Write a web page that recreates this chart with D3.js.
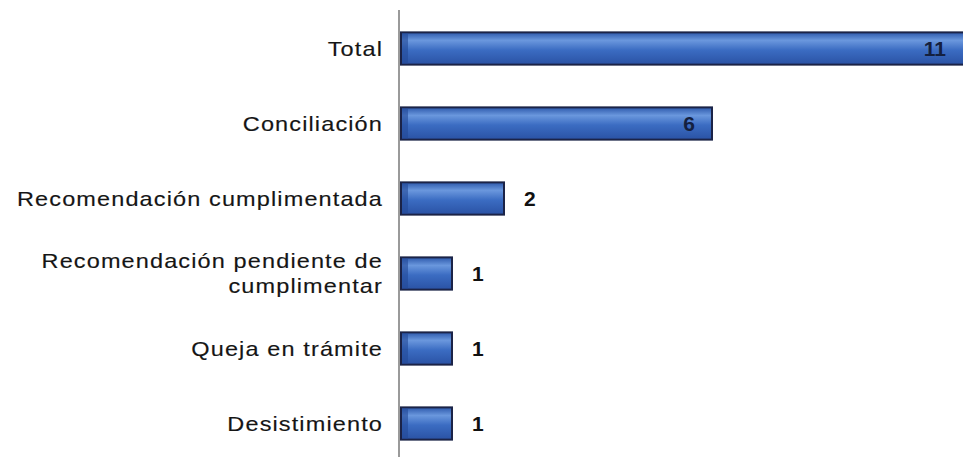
<!DOCTYPE html>
<html>
<head>
<meta charset="utf-8" />
<script src="https://d3js.org/d3.v7.min.js"></script>
<style>
  body { margin: 0; background: #fff; overflow: hidden; }
  .cat { font-family: "Liberation Sans", Arial, sans-serif; font-size: 21px; letter-spacing: 1px; fill: #151515; stroke: #151515; stroke-width: 0.15px; }
  .val { font-family: "Liberation Sans", Arial, sans-serif; font-size: 21px; font-weight: bold; }
</style>
</head>
<body>
<div id="chart"></div>
<script>
const width = 963, height = 457;

// data
const categories = ["Total", "Conciliación", "Recomendación cumplimentada",
  "Recomendación pendiente de cumplimentar", "Queja en trámite", "Desistimiento"];
const labelLines = [["Total"], ["Conciliación"], ["Recomendación cumplimentada"],
  ["Recomendación pendiente de", "cumplimentar"], ["Queja en trámite"], ["Desistimiento"]];
const values = [11, 6, 2, 1, 1, 1];

const svg = d3.select("#chart").append("svg")
  .attr("width", width).attr("height", height);

const defs = svg.append("defs");
const grad = defs.append("linearGradient").attr("id", "barGrad")
  .attr("x1", 0).attr("y1", 0).attr("x2", 0).attr("y2", 1);
grad.append("stop").attr("offset", "0%").attr("stop-color", "#2c58ab");
grad.append("stop").attr("offset", "25%").attr("stop-color", "#6a97dd");
grad.append("stop").attr("offset", "55%").attr("stop-color", "#3b6cc2");
grad.append("stop").attr("offset", "100%").attr("stop-color", "#2a52a4");

const x = d3.scaleLinear().domain([0, 11]).range([400, 972]);
const y = d3.scaleBand().domain(categories).range([11, 461])
  .paddingInner(0.57).paddingOuter(0.285);

// axis line
svg.append("line")
  .attr("x1", 399).attr("x2", 399).attr("y1", 10).attr("y2", height)
  .attr("stroke", "#9a9a9a").attr("stroke-width", 2);

const rows = svg.append("g").selectAll("g")
  .data(categories).join("g");

rows.append("rect")
  .attr("x", x(0) + 1)
  .attr("y", d => y(d))
  .attr("width", (d, i) => x(values[i]) - x(0) - 1)
  .attr("height", y.bandwidth())
  .attr("fill", "url(#barGrad)")
  .attr("stroke", "#1b2347").attr("stroke-width", 2);

// dark shade at left edge of bars
rows.append("rect")
  .attr("x", x(0) + 2)
  .attr("y", d => y(d) + 1)
  .attr("width", 6)
  .attr("height", y.bandwidth() - 2)
  .attr("fill", "#234a98").attr("opacity", 0.6);

// category labels (glyphs look horizontally stretched in the original)
rows.each(function (d, i) {
  const lines = labelLines[i];
  const cy = y(d) + y.bandwidth() / 2;
  const lh = 25;
  const t = d3.select(this).append("g")
    .attr("transform", "translate(383,0) scale(1.12,1)")
    .append("text")
    .attr("class", "cat")
    .attr("text-anchor", "end");
  lines.forEach((ln, j) => {
    t.append("tspan")
      .attr("x", 0)
      .attr("y", cy + (j - (lines.length - 1) / 2) * lh)
      .attr("dy", "0.35em")
      .text(ln);
  });
});

// value labels
const inside = v => v >= 6;
rows.append("text")
  .attr("class", "val")
  .attr("x", (d, i) => inside(values[i]) ? Math.min(x(values[i]), width) - 17 : x(values[i]) + 20)
  .attr("y", d => y(d) + y.bandwidth() / 2)
  .attr("dy", "0.36em")
  .attr("text-anchor", (d, i) => inside(values[i]) ? "end" : "start")
  .attr("fill", (d, i) => inside(values[i]) ? "#14203f" : "#111")
  .text((d, i) => values[i]);
</script>
</body>
</html>
